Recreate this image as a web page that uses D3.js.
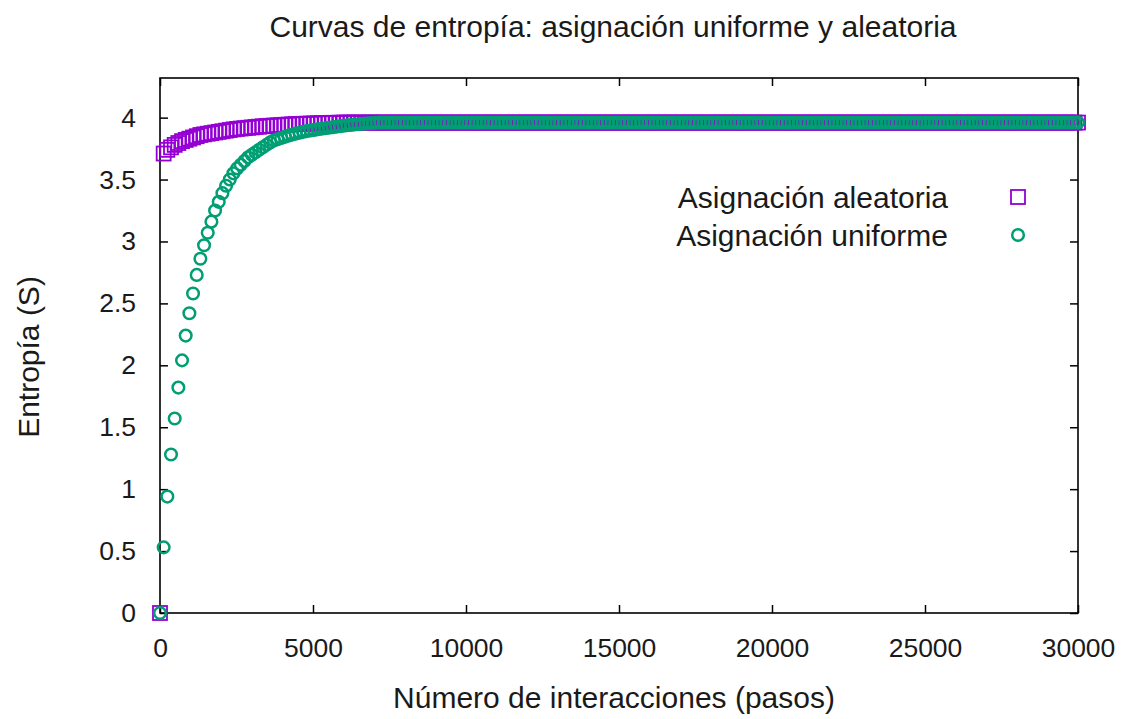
<!DOCTYPE html>
<html>
<head>
<meta charset="utf-8">
<script src="https://cdn.jsdelivr.net/npm/d3@7"></script>
<style>
  html, body { margin: 0; padding: 0; background: #fff; }
  svg { display: block; font-family: "Liberation Sans", Arial, sans-serif; }
</style>
</head>
<body>
<svg id="chart" width="1127" height="719"></svg>
<script>
// Sampling interval (steps between recorded entropy values)
const stepSize = 120;

// Entropy, random initial assignment (one value every stepSize steps, 0..30000)
const randomAssign = [
  0, 3.71, 3.74, 3.76, 3.78, 3.795, 3.81, 3.82, 3.83, 3.84,
  3.85, 3.86, 3.865, 3.87, 3.875, 3.88, 3.885, 3.89, 3.895, 3.90,
  3.905, 3.909, 3.912, 3.915, 3.918, 3.921, 3.924, 3.927, 3.93, 3.932,
  3.934, 3.936, 3.938, 3.94, 3.942, 3.944, 3.946, 3.948, 3.949, 3.95,
  3.951, 3.952, 3.953, 3.954, 3.955, 3.956, 3.957, 3.958, 3.958, 3.959,
  3.96,3.96,3.96,3.96,3.96,3.96,3.96,3.96,3.96,3.96,3.96,3.96,3.96,3.96,3.96,3.96,3.96,3.96,3.96,3.96,
  3.96,3.96,3.96,3.96,3.96,3.96,3.96,3.96,3.96,3.96,3.96,3.96,3.96,3.96,3.96,3.96,3.96,3.96,3.96,3.96,
  3.96,3.96,3.96,3.96,3.96,3.96,3.96,3.96,3.96,3.96,3.96,3.96,3.96,3.96,3.96,3.96,3.96,3.96,3.96,3.96,
  3.96,3.96,3.96,3.96,3.96,3.96,3.96,3.96,3.96,3.96,3.96,3.96,3.96,3.96,3.96,3.96,3.96,3.96,3.96,3.96,
  3.96,3.96,3.96,3.96,3.96,3.96,3.96,3.96,3.96,3.96,3.96,3.96,3.96,3.96,3.96,3.96,3.96,3.96,3.96,3.96,
  3.96,3.96,3.96,3.96,3.96,3.96,3.96,3.96,3.96,3.96,3.96,3.96,3.96,3.96,3.96,3.96,3.96,3.96,3.96,3.96,
  3.96,3.96,3.96,3.96,3.96,3.96,3.96,3.96,3.96,3.96,3.96,3.96,3.96,3.96,3.96,3.96,3.96,3.96,3.96,3.96,
  3.96,3.96,3.96,3.96,3.96,3.96,3.96,3.96,3.96,3.96,3.96,3.96,3.96,3.96,3.96,3.96,3.96,3.96,3.96,3.96,
  3.96,3.96,3.96,3.96,3.96,3.96,3.96,3.96,3.96,3.96,3.96,3.96,3.96,3.96,3.96,3.96,3.96,3.96,3.96,3.96,
  3.96,3.96,3.96,3.96,3.96,3.96,3.96,3.96,3.96,3.96,3.96,3.96,3.96,3.96,3.96,3.96,3.96,3.96,3.96,3.96,
  3.96
];

// Entropy, uniform initial assignment
const uniformAssign = [
  0, 0.53, 0.94, 1.28, 1.57, 1.82, 2.04, 2.24, 2.42, 2.58,
  2.73, 2.86, 2.97, 3.07, 3.16, 3.25, 3.32, 3.39, 3.45, 3.50,
  3.55, 3.59, 3.62, 3.65, 3.68, 3.70, 3.72, 3.74, 3.76, 3.78,
  3.80, 3.815, 3.825, 3.835, 3.845, 3.855, 3.863, 3.871, 3.878, 3.885,
  3.891, 3.896, 3.901, 3.906, 3.91, 3.914, 3.918, 3.922, 3.926, 3.93,
  3.934, 3.938, 3.941, 3.944, 3.947, 3.95, 3.953, 3.955, 3.957, 3.959,
  3.96,3.96,3.96,3.96,3.96,3.96,3.96,3.96,3.96,3.96,3.96,3.96,3.96,3.96,3.96,3.96,3.96,3.96,3.96,3.96,
  3.96,3.96,3.96,3.96,3.96,3.96,3.96,3.96,3.96,3.96,3.96,3.96,3.96,3.96,3.96,3.96,3.96,3.96,3.96,3.96,
  3.96,3.96,3.96,3.96,3.96,3.96,3.96,3.96,3.96,3.96,3.96,3.96,3.96,3.96,3.96,3.96,3.96,3.96,3.96,3.96,
  3.96,3.96,3.96,3.96,3.96,3.96,3.96,3.96,3.96,3.96,3.96,3.96,3.96,3.96,3.96,3.96,3.96,3.96,3.96,3.96,
  3.96,3.96,3.96,3.96,3.96,3.96,3.96,3.96,3.96,3.96,3.96,3.96,3.96,3.96,3.96,3.96,3.96,3.96,3.96,3.96,
  3.96,3.96,3.96,3.96,3.96,3.96,3.96,3.96,3.96,3.96,3.96,3.96,3.96,3.96,3.96,3.96,3.96,3.96,3.96,3.96,
  3.96,3.96,3.96,3.96,3.96,3.96,3.96,3.96,3.96,3.96,3.96,3.96,3.96,3.96,3.96,3.96,3.96,3.96,3.96,3.96,
  3.96,3.96,3.96,3.96,3.96,3.96,3.96,3.96,3.96,3.96,3.96,3.96,3.96,3.96,3.96,3.96,3.96,3.96,3.96,3.96,
  3.96,3.96,3.96,3.96,3.96,3.96,3.96,3.96,3.96,3.96,3.96,3.96,3.96,3.96,3.96,3.96,3.96,3.96,3.96,3.96,
  3.96,3.96,3.96,3.96,3.96,3.96,3.96,3.96,3.96,3.96,3.96
];

const xTicks = [0, 5000, 10000, 15000, 20000, 25000, 30000];
const yTicks = [0, 0.5, 1, 1.5, 2, 2.5, 3, 3.5, 4];
const seriesNames = ["Asignación aleatoria", "Asignación uniforme"];

const titleText = "Curvas de entropía: asignación uniforme y aleatoria";
const xLabel = "Número de interacciones (pasos)";
const yLabel = "Entropía (S)";

const colorRandom = "#9400D3";
const colorUniform = "#009E73";

const svg = d3.select("#chart");
const plot = { left: 160, right: 1078, top: 78, bottom: 613 };

const x = d3.scaleLinear().domain([0, 30000]).range([plot.left, plot.right]);
const y = d3.scaleLinear().domain([0, 4.32]).range([plot.bottom, plot.top]);

const tickFont = 26.5;
const labelFont = 30;
const fontStack = '"Liberation Sans", Arial, sans-serif';
const textColor = "#1a1a1a";

// Axes with inward ticks, mirrored on the opposite borders
const gx = svg.append("g").attr("transform", `translate(0,${plot.bottom})`)
  .call(d3.axisBottom(x).tickValues(xTicks).tickSize(-8).tickPadding(25).tickFormat(d => String(d)));
const gy = svg.append("g").attr("transform", `translate(${plot.left},0)`)
  .call(d3.axisLeft(y).tickValues(yTicks).tickSize(-8).tickPadding(24).tickFormat(d => String(d)));
const gxTop = svg.append("g").attr("transform", `translate(0,${plot.top})`)
  .call(d3.axisTop(x).tickValues(xTicks).tickSize(-8).tickFormat(""));
const gyRight = svg.append("g").attr("transform", `translate(${plot.right},0)`)
  .call(d3.axisRight(y).tickValues(yTicks).tickSize(-8).tickFormat(""));

[gx, gy, gxTop, gyRight].forEach(g => {
  g.select(".domain").remove();
  g.selectAll(".tick line").attr("stroke", "#000").attr("stroke-width", 1.5);
  g.selectAll(".tick text").attr("fill", textColor).style("font-size", tickFont + "px")
    .style("font-family", fontStack);
});

// Border
svg.append("rect")
  .attr("x", plot.left).attr("y", plot.top)
  .attr("width", plot.right - plot.left).attr("height", plot.bottom - plot.top)
  .attr("fill", "none").attr("stroke", "#000").attr("stroke-width", 1.6);

// Random assignment: open squares
const sq = 14;
svg.append("g").selectAll("rect")
  .data(randomAssign)
  .join("rect")
  .attr("x", (d, i) => x(i * stepSize) - sq / 2)
  .attr("y", d => y(d) - sq / 2)
  .attr("width", sq).attr("height", sq)
  .attr("fill", "none").attr("stroke", colorRandom).attr("stroke-width", 1.8);

// Uniform assignment: open circles
const cr = 5.8;
const cw = 2.5;
svg.append("g").selectAll("circle")
  .data(uniformAssign)
  .join("circle")
  .attr("cx", (d, i) => x(i * stepSize))
  .attr("cy", d => y(d))
  .attr("r", cr)
  .attr("fill", "none").attr("stroke", colorUniform).attr("stroke-width", cw);

// Legend
const legend = svg.append("g").style("font-size", labelFont + "px").attr("fill", textColor);
const legendRows = [
  { name: seriesNames[0], yPos: 197, kind: "square" },
  { name: seriesNames[1], yPos: 235, kind: "circle" }
];
legendRows.forEach(r => {
  legend.append("text").attr("x", 948).attr("y", r.yPos).attr("dy", "0.35em")
    .attr("text-anchor", "end").text(r.name);
  if (r.kind === "square") {
    legend.append("rect").attr("x", 1018 - sq / 2).attr("y", r.yPos - sq / 2)
      .attr("width", sq).attr("height", sq)
      .attr("fill", "none").attr("stroke", colorRandom).attr("stroke-width", 1.8);
  } else {
    legend.append("circle").attr("cx", 1018).attr("cy", r.yPos).attr("r", cr)
      .attr("fill", "none").attr("stroke", colorUniform).attr("stroke-width", cw);
  }
});

// Titles
svg.append("text").attr("x", 613).attr("y", 26).attr("dy", "0.35em")
  .attr("text-anchor", "middle").style("font-size", labelFont + "px").attr("fill", textColor)
  .text(titleText);
svg.append("text").attr("x", 614).attr("y", 697).attr("dy", "0.35em")
  .attr("text-anchor", "middle").style("font-size", labelFont + "px").attr("fill", textColor)
  .text(xLabel);
svg.append("text").attr("transform", `translate(28,357) rotate(-90)`).attr("dy", "0.35em")
  .attr("text-anchor", "middle").style("font-size", labelFont + "px").attr("fill", textColor)
  .text(yLabel);
</script>
</body>
</html>
